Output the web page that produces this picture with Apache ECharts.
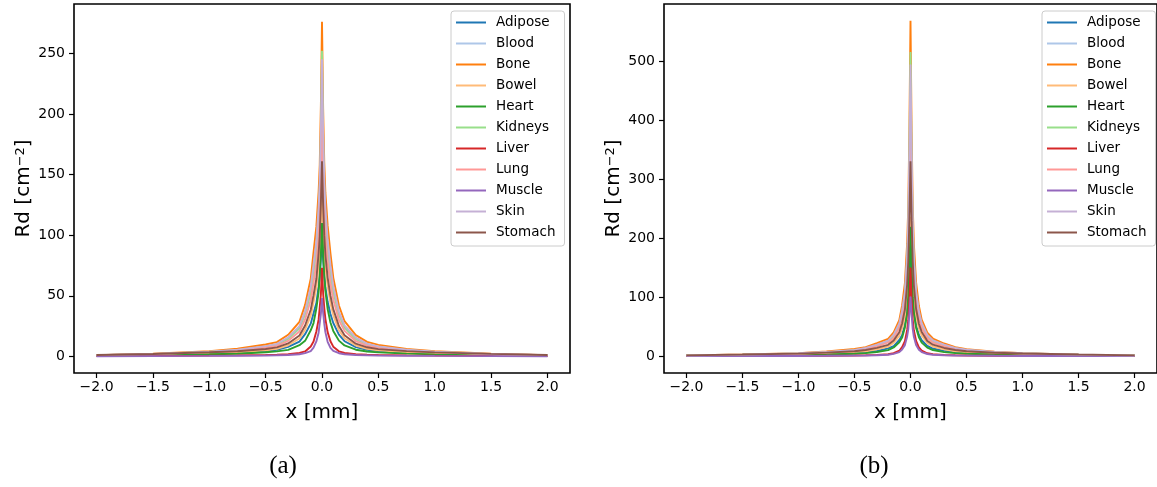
<!DOCTYPE html>
<html>
<head>
<meta charset="utf-8">
<script src="https://cdn.jsdelivr.net/npm/echarts@6/dist/echarts.min.js"></script>
<style>
  html, body { margin: 0; padding: 0; background: #fff; }
  #chart { width: 1157px; height: 487px; }
</style>
</head>
<body>
<div id="chart"></div>
<script>
// Tissue names, in plotting order
const tissues = ['Adipose', 'Blood', 'Bone', 'Bowel', 'Heart', 'Kidneys', 'Liver', 'Lung', 'Muscle', 'Skin', 'Stomach'];

// Line colours (tab20 palette)
const colors = ['#1f77b4', '#aec7e8', '#ff7f0e', '#ffbb78', '#2ca02c', '#98df8a', '#d62728', '#ff9896', '#9467bd', '#c5b0d5', '#8c564b'];

// Lateral position of the sampled profile points, mm
const xPos = [-2, -1.5, -1, -0.75, -0.5, -0.4, -0.3, -0.2, -0.15, -0.1, -0.075, -0.05, -0.03, -0.02, -0.01, 0,
              0.01, 0.02, 0.03, 0.05, 0.075, 0.1, 0.15, 0.2, 0.3, 0.4, 0.5, 0.75, 1, 1.5, 2];

// Panel (a): diffuse reflectance Rd [cm^-2]
const rdA_Adipose = [0.7, 1.2, 2.3, 3.1, 4.5, 5.4, 7.8, 12.2, 18.3, 27, 35.5, 44, 57.5, 66, 81, 95, 80, 67, 57, 45, 35, 27.5, 18, 12.5, 7.6, 5.5, 4.4, 3.0, 2.2, 1.2, 0.7];
const rdA_Blood   = [0.9, 2.0, 3.5, 5.1, 7.8, 9.6, 14.3, 23, 34.5, 52, 69, 87, 111, 127, 149, 170, 150, 128, 110, 88, 68, 53, 34, 23.5, 14, 9.8, 7.6, 5.0, 3.6, 1.9, 0.9];
const rdA_Bone    = [1.0, 2.3, 4.2, 6.4, 9.8, 11.8, 17.8, 28.5, 42.5, 64, 86, 107, 136, 158, 207, 276, 205, 160, 135, 108, 85, 65, 42, 29, 17.5, 12, 9.5, 6.2, 4.3, 2.2, 1.0];
const rdA_Bowel   = [0.7, 1.3, 2.4, 3.4, 5.1, 6.2, 9.2, 14.8, 22, 33.5, 44.5, 57, 75, 87, 109, 134, 108, 88, 74, 58, 44, 34, 21.5, 15, 9, 6.3, 5.0, 3.3, 2.5, 1.3, 0.7];
const rdA_Heart   = [0.6, 1.1, 1.8, 2.2, 3.4, 4.1, 5.4, 9.2, 12.8, 21.5, 27.5, 39.5, 53, 67, 84, 110, 85, 66, 54, 39, 28, 21, 13, 9, 5.5, 4.0, 3.3, 2.3, 1.7, 1.0, 0.6];
const rdA_Kidneys = [0.9, 1.9, 3.8, 5.1, 8.0, 9.9, 14.7, 23.6, 35.5, 53, 71, 89, 116, 137, 182, 252, 180, 138, 115, 90, 70, 54, 35, 24, 14.5, 10, 7.8, 5.2, 3.7, 1.9, 0.9];
const rdA_Liver   = [0.25, 0.35, 0.6, 0.8, 1.2, 1.4, 1.8, 2.9, 4.1, 8.2, 12.2, 20.5, 30.5, 40.5, 51, 73, 52, 40, 31, 20, 12.5, 8, 4.2, 2.8, 1.8, 1.4, 1.1, 0.8, 0.6, 0.35, 0.25];
const rdA_Lung    = [0.9, 1.8, 3.5, 4.6, 7.2, 8.7, 12.8, 20.6, 30.5, 46.5, 61, 77, 99, 117, 151, 200, 150, 118, 98, 78, 60, 47, 30, 21, 12.5, 8.8, 7.0, 4.7, 3.4, 1.8, 0.9];
const rdA_Muscle  = [0.15, 0.25, 0.4, 0.5, 0.7, 0.9, 1.2, 1.8, 2.7, 4.4, 7.2, 12.3, 19.5, 27.5, 35, 48, 36, 27, 20, 12, 7, 4.5, 2.6, 1.8, 1.2, 0.9, 0.7, 0.5, 0.4, 0.25, 0.15];
const rdA_Skin    = [1.0, 2.1, 3.8, 5.6, 8.5, 10.3, 15.8, 25, 37.5, 57.5, 76, 95, 123, 144, 186, 245, 185, 145, 122, 96, 75, 58, 37, 25.5, 15.5, 10.5, 8.3, 5.5, 3.9, 2.0, 1.0];
const rdA_Stomach = [1.2, 2.0, 3.4, 4.2, 6.1, 7.4, 10.7, 17.2, 25.5, 38.5, 50.5, 64, 85, 99, 126, 161, 125, 100, 84, 65, 50, 39, 25, 17.5, 10.5, 7.5, 6.0, 4.3, 3.3, 2.1, 1.2];

// Panel (b): diffuse reflectance Rd [cm^-2]
const rdB_Adipose = [0.8, 1.4, 2.5, 3.7, 5.2, 6.8, 8.8, 13.3, 17.2, 27.5, 35.5, 53, 75, 101, 138, 190, 140, 100, 76, 52, 36, 27, 17.5, 13, 9, 6.6, 5.3, 3.6, 2.6, 1.4, 0.8];
const rdB_Blood   = [1.2, 2.5, 4.5, 6.8, 9.8, 13.3, 17.6, 25.5, 33, 52.5, 69, 103, 154, 207, 298, 400, 300, 205, 155, 102, 70, 52, 33.5, 25, 18, 13, 10, 6.6, 4.6, 2.4, 1.2];
const rdB_Bone    = [1.3, 2.8, 5.1, 8.0, 12.3, 15.2, 22, 29.5, 40.5, 61, 86, 124, 191, 252, 383, 568, 380, 255, 190, 125, 85, 62, 40, 30, 21.5, 15.5, 12, 7.8, 5.3, 2.7, 1.3];
const rdB_Bowel   = [0.9, 1.7, 3.3, 4.4, 6.9, 8.3, 11.8, 16.2, 23, 34.5, 47.5, 67, 101, 129, 182, 236, 180, 130, 100, 68, 47, 35, 22.5, 16.5, 11.5, 8.5, 6.7, 4.5, 3.2, 1.7, 0.9];
const rdB_Heart   = [0.7, 1.2, 2.2, 2.8, 4.1, 5.3, 7.2, 10.3, 14.8, 23.5, 31.5, 48.5, 73, 101, 148, 219, 150, 100, 74, 48, 32, 23, 14.5, 10.5, 7, 5.2, 4.2, 2.9, 2.1, 1.2, 0.7];
const rdB_Kidneys = [1.2, 2.4, 4.7, 6.5, 10.2, 12.8, 18.3, 25, 34.5, 52.5, 73, 104, 161, 213, 333, 515, 330, 215, 160, 105, 72, 53, 34, 25.5, 18, 13, 10, 6.6, 4.6, 2.4, 1.2];
const rdB_Liver   = [0.3, 0.4, 0.7, 0.9, 1.3, 1.7, 2.3, 3.3, 5.1, 9.3, 15.3, 25.5, 44.5, 61, 96, 150, 95, 62, 44, 26, 15, 9.5, 5, 3.4, 2.2, 1.7, 1.3, 0.9, 0.7, 0.4, 0.3];
const rdB_Lung    = [1.1, 2.3, 4.3, 6.3, 9.5, 12.2, 16.8, 23.3, 30.5, 48.5, 64, 95, 141, 192, 278, 420, 280, 190, 142, 94, 65, 48, 31, 23, 16.5, 12, 9.3, 6.2, 4.4, 2.3, 1.1];
const rdB_Muscle  = [0.2, 0.3, 0.5, 0.7, 1.0, 1.3, 1.7, 2.6, 3.9, 6.9, 11.2, 18.8, 33.5, 45.5, 71, 101, 70, 46, 33, 19, 11, 7, 3.8, 2.6, 1.7, 1.3, 1.0, 0.7, 0.5, 0.3, 0.2];
const rdB_Skin    = [1.2, 2.6, 5.0, 7.3, 10.8, 14.2, 19.7, 26.5, 36.5, 55.5, 77, 109, 169, 224, 342, 494, 340, 225, 168, 110, 76, 56, 36, 27, 19.5, 14, 11, 7.2, 5.0, 2.6, 1.2];
const rdB_Stomach = [1.5, 2.8, 4.4, 6.1, 8.4, 10.6, 14.2, 19.3, 26.5, 40.5, 55.5, 79, 121, 159, 232, 330, 230, 160, 120, 80, 55, 41, 26, 19.5, 14, 10.5, 8.5, 6, 4.5, 2.8, 1.5];

// Tick positions
const xTicks  = [-2, -1.5, -1, -0.5, 0, 0.5, 1, 1.5, 2];
const yTicksA = [0, 50, 100, 150, 200, 250];
const yTicksB = [0, 100, 200, 300, 400, 500];

const panelA = [rdA_Adipose, rdA_Blood, rdA_Bone, rdA_Bowel, rdA_Heart, rdA_Kidneys, rdA_Liver, rdA_Lung, rdA_Muscle, rdA_Skin, rdA_Stomach];
const panelB = [rdB_Adipose, rdB_Blood, rdB_Bone, rdB_Bowel, rdB_Heart, rdB_Kidneys, rdB_Liver, rdB_Lung, rdB_Muscle, rdB_Skin, rdB_Stomach];

const FONT = 'DejaVu Sans';
const fmtMinus = v => (v < 0 ? '\u2212' : '') + Math.abs(v);

function xAxisFor(gridIndex) {
  return {
    type: 'value', gridIndex, min: -2.2, max: 2.2, position: 'bottom',
    name: 'x [mm]', nameLocation: 'middle', nameGap: 30,
    nameTextStyle: { fontSize: 20, color: '#000', fontFamily: FONT },
    axisLine: { show: false, onZero: false },
    splitLine: { show: false },
    axisTick: { show: true, inside: false, length: 5, lineStyle: { color: '#000', width: 1.2 }, customValues: xTicks },
    axisLabel: { color: '#000', fontSize: 14, fontFamily: FONT, margin: 7, customValues: xTicks,
      formatter: v => (v < 0 ? '\u2212' : '') + Math.abs(v).toFixed(1) }
  };
}

function yAxisFor(gridIndex, min, max, ticks) {
  return {
    type: 'value', gridIndex, min, max, position: 'left',
    name: '{b|Rd [cm}{s|\u22122}{b|]}', nameLocation: 'middle', nameGap: 40, nameRotate: 90,
    nameTextStyle: { color: '#000', fontFamily: FONT,
      rich: { b: { fontSize: 20, fontFamily: FONT, color: '#000' },
              s: { fontSize: 13, fontFamily: FONT, color: '#000', verticalAlign: 'top', padding: [0, 0, 7, 0] } } },
    axisLine: { show: false, onZero: false },
    splitLine: { show: false },
    axisTick: { show: true, inside: false, length: 5, lineStyle: { color: '#000', width: 1.2 }, customValues: ticks },
    axisLabel: { color: '#000', fontSize: 14, fontFamily: FONT, margin: 9, customValues: ticks, formatter: fmtMinus }
  };
}

function legendFor(left) {
  return {
    left, top: 11, orient: 'vertical',
    data: tissues,
    icon: 'rect', itemWidth: 30, itemHeight: 2, itemGap: 6,
    padding: [4, 9, 6, 5],
    backgroundColor: 'rgba(255,255,255,0.8)',
    borderColor: '#cccccc', borderWidth: 1, borderRadius: 3,
    selectedMode: false,
    textStyle: { fontSize: 13.5, fontFamily: FONT, color: '#000', lineHeight: 15, padding: [0, 0, 0, 5] }
  };
}

const series = [];
[panelA, panelB].forEach((panel, p) => {
  panel.forEach((vals, i) => {
    series.push({
      name: tissues[i], type: 'line', xAxisIndex: p, yAxisIndex: p,
      data: xPos.map((x, k) => [x, vals[k]]),
      showSymbol: false, symbol: 'none', smooth: false,
      lineStyle: { color: colors[i], width: 1.9 },
      itemStyle: { color: colors[i] },
      emphasis: { disabled: true },
      animation: false
    });
  });
});

const chart = echarts.init(document.getElementById('chart'), null, { renderer: 'canvas' });
chart.setOption({
  animation: false,
  backgroundColor: '#fff',
  textStyle: { fontFamily: FONT },
  grid: [
    { left: 74, top: 4, width: 496, height: 369, show: true, borderColor: '#000', borderWidth: 1.6, backgroundColor: 'transparent' },
    { left: 664, top: 4, width: 496, height: 369, show: true, borderColor: '#000', borderWidth: 1.6, backgroundColor: 'transparent' }
  ],
  xAxis: [xAxisFor(0), xAxisFor(1)],
  yAxis: [yAxisFor(0, -13.7, 290.6, yTicksA), yAxisFor(1, -28.4, 596.4, yTicksB)],
  legend: [legendFor(451), legendFor(1042)],
  graphic: [
    { type: 'text', x: 283, y: 466, style: { text: '(a)', fontSize: 25, fontFamily: 'Liberation Serif', fill: '#000', align: 'center', verticalAlign: 'middle' } },
    { type: 'text', x: 874, y: 466, style: { text: '(b)', fontSize: 25, fontFamily: 'Liberation Serif', fill: '#000', align: 'center', verticalAlign: 'middle' } }
  ],
  series
});
</script>
</body>
</html>
